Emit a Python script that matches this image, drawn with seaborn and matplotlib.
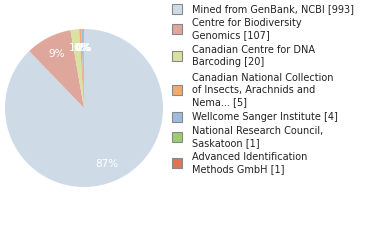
import math
import matplotlib
matplotlib.use("Agg")
import matplotlib.pyplot as plt
import seaborn as sns
from matplotlib.patches import Rectangle

sns.set_theme(style="white")
plt.rcParams['font.family'] = ['DejaVu Sans']

labels = [
    "Mined from GenBank, NCBI [993]",
    "Centre for Biodiversity\nGenomics [107]",
    "Canadian Centre for DNA\nBarcoding [20]",
    "Canadian National Collection\nof Insects, Arachnids and\nNema... [5]",
    "Wellcome Sanger Institute [4]",
    "National Research Council,\nSaskatoon [1]",
    "Advanced Identification\nMethods GmbH [1]",
]
counts = [993, 107, 20, 5, 4, 1, 1]
colors = ["#cedbe6", "#dfa69c", "#d9e2a0", "#f1aa6e", "#9dbbdf", "#9dca74", "#e2705a"]

fig = plt.figure(figsize=(3.8, 2.4), dpi=100)
ax = fig.add_axes([5/380, (240-187)/240, 158/380, 158/240])

def fmt(p):
    return f"{int(math.floor(p))}%"

wedges, texts, autotexts = ax.pie(
    counts, colors=colors, startangle=90, counterclock=False,
    autopct=fmt, pctdistance=0.76,
    wedgeprops=dict(linewidth=0),
    textprops=dict(color="white", fontsize=7.5),
)
ax.set_xlim(-1, 1)
ax.set_ylim(-1, 1)
ax.set_aspect("equal")
ax.axis("off")

# legend
y_starts = [9, 23, 50, 78, 117, 131, 157]
line_h = 12
for lab, col, y0 in zip(labels, colors, y_starts):
    n = lab.count("\n") + 1
    ymid = y0 + (n - 1) * line_h / 2
    fig.patches.append(Rectangle((172/380, 1 - (ymid + 5)/240), 10/380, 10/240,
                                 transform=fig.transFigure, facecolor=col,
                                 edgecolor="#888888", linewidth=0.8))
    for i, ln in enumerate(lab.split("\n")):
        fig.text(192/380, 1 - (y0 + i*line_h)/240, ln, fontsize=7,
                 va="center", ha="left", color="#222222")

fig.savefig("out.png", dpi=100)
